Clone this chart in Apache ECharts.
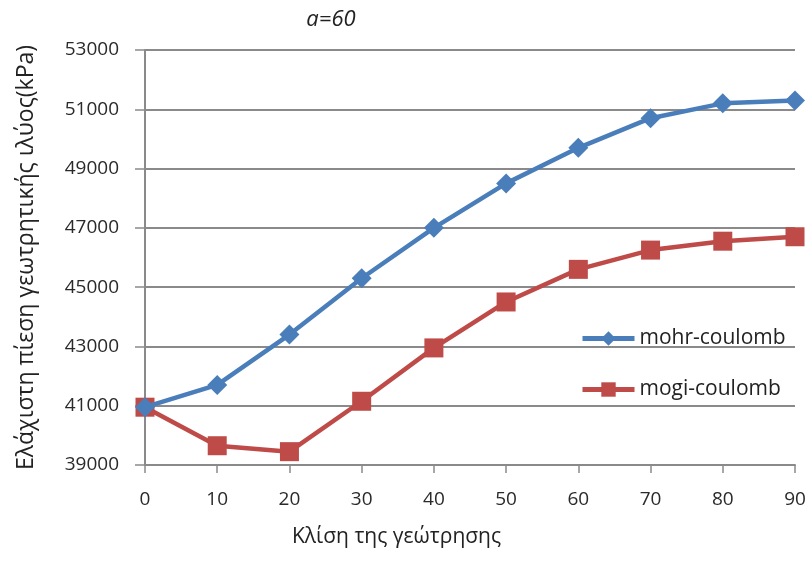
<!DOCTYPE html>
<html>
<head>
<meta charset="utf-8">
<script src="https://cdn.jsdelivr.net/npm/echarts@6/dist/echarts.min.js"></script>
<style>
  html, body { margin: 0; padding: 0; background: #fff; }
  #main { width: 812px; height: 569px; }
</style>
</head>
<body>
<div id="main"></div>
<script>
    'use strict';

    // κλίση (deg) and pressures (kPa)
    var angles = [0, 10, 20, 30, 40, 50, 60, 70, 80, 90];
    var mohrCoulomb = [40950, 41700, 43400, 45300, 47000, 48500, 49700, 50700, 51200, 51300];
    var mogiCoulomb = [40950, 39650, 39450, 41150, 42950, 44500, 45600, 46250, 46550, 46700];
    var yTicks = [39000, 41000, 43000, 45000, 47000, 49000, 51000, 53000];

    var pairs = function(xs, ys) {
        return xs.map(function(x, i) { return [x, ys[i]]; });
    };

    var font = '"Open Sans", "Noto Sans", sans-serif';
    var gridColor = '#8a8a8a';

    var myChart = echarts.init(document.getElementById('main'));
    myChart.setOption({
        animation: false,
        backgroundColor: '#fff',
        textStyle: { fontFamily: font },
        title: {
            text: 'a=60',
            left: 326,
            top: 4,
            textAlign: 'center',
            textStyle: { fontStyle: 'italic', fontWeight: 'normal', fontSize: 22, color: '#222', fontFamily: font }
        },
        grid: { left: 145, right: 17, top: 50, bottom: 104 },
        legend: {
            orient: 'vertical',
            left: 575,
            top: 323,
            itemWidth: 52,
            itemHeight: 18,
            itemGap: 30,
            lineStyle: { width: 5 },
            textStyle: { fontSize: 21, color: '#222', fontFamily: font },
            data: ['mohr-coulomb', 'mogi-coulomb']
        },
        xAxis: {
            type: 'value',
            min: 0,
            max: 90,
            interval: 10,
            axisLine: { show: true, onZero: false, lineStyle: { color: gridColor, width: 2 } },
            axisTick: { show: true, inside: false, length: 8, lineStyle: { color: gridColor, width: 1.5 } },
            axisLabel: { fontSize: 19, color: '#2a2a2a', margin: 25, fontFamily: font },
            splitLine: { show: false }
        },
        yAxis: {
            type: 'value',
            min: 39000,
            max: 53000,
            interval: 2000,
            name: 'Ελάχιστη πίεση γεωτρητικής ιλύος(kPa)',
            nameLocation: 'middle',
            nameGap: 107,
            nameTextStyle: { fontSize: 23, color: '#222', fontFamily: font },
            axisLine: { show: true, lineStyle: { color: gridColor, width: 2 } },
            axisTick: { show: true, inside: false, length: 10, lineStyle: { color: gridColor, width: 1.5 } },
            axisLabel: {
                fontSize: 19, color: '#2a2a2a', margin: 26, fontFamily: font,
                formatter: function(v) { return yTicks.indexOf(v) >= 0 ? String(v) : ''; }
            },
            splitLine: { show: true, lineStyle: { color: gridColor, width: 2 } }
        },
        graphic: [{
            type: 'text',
            left: 292,
            top: 527,
            style: { text: 'Κλίση της γεώτρησης', fill: '#222', font: '21px ' + font }
        }],
        series: [{
            name: 'mohr-coulomb',
            type: 'line',
            data: pairs(angles, mohrCoulomb),
            symbol: 'diamond',
            symbolSize: 20,
            z: 3,
            lineStyle: { color: '#4a7ebb', width: 4.5 },
            itemStyle: { color: '#4a7ebb' }
        }, {
            name: 'mogi-coulomb',
            type: 'line',
            data: pairs(angles, mogiCoulomb),
            symbol: 'rect',
            symbolSize: 19,
            z: 2,
            lineStyle: { color: '#be4b48', width: 4.5 },
            itemStyle: { color: '#be4b48' }
        }]
    });
</script>
</body>
</html>
